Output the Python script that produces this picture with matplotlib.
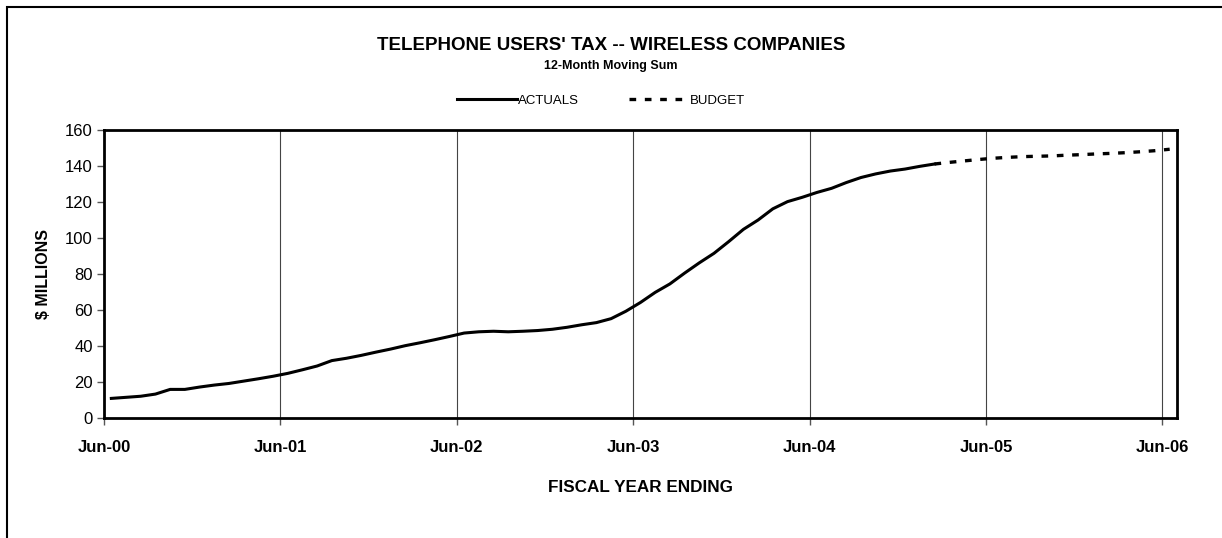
import numpy as np
import matplotlib.pyplot as plt
from matplotlib.patches import Rectangle

plt.rcParams['font.family'] = ['Liberation Sans', 'DejaVu Sans']

# 12-month moving sum, $ millions, month by month from Jun-00
actuals = [10.9, 11.5, 12.1, 13.3, 15.9, 15.9, 17.2, 18.3, 19.2, 20.5,
           21.8, 23.2, 24.8, 26.8, 28.9, 31.9, 33.2, 34.8, 36.6, 38.3,
           40.2, 41.8, 43.5, 45.3, 47.2, 47.9, 48.2, 47.9, 48.2, 48.6,
           49.3, 50.4, 51.8, 53.0, 55.2, 59.3, 64.2, 69.8, 74.5, 80.5,
           86.2, 91.5, 98.0, 104.8, 110.0, 116.2, 120.2, 122.6, 125.3, 127.6,
           130.8, 133.6, 135.6, 137.2, 138.3, 139.8, 141.1]
budget = [141.1, 142.0, 142.8, 143.6, 144.3, 144.8, 145.2, 145.4, 145.6,
          146.0, 146.3, 146.7, 147.0, 147.4, 147.9, 148.5, 149.3]
tick_labels = ["Jun-00", "Jun-01", "Jun-02", "Jun-03", "Jun-04", "Jun-05", "Jun-06"]

x_act = np.arange(len(actuals)) + 0.5
x_bud = np.arange(len(budget)) + len(actuals) - 1 + 0.5

fig = plt.figure(figsize=(12.22, 5.38), dpi=100)
ax = fig.add_axes([0.0851, 0.2230, 0.8781, 0.5354])

ax.plot(x_act, actuals, color='black', lw=2.2, label='ACTUALS', solid_joinstyle='round')
ax.plot(x_bud, budget, color='black', lw=2.4, linestyle=(0, (2, 2.6)), label='BUDGET')

ax.set_xlim(0, 73)
ax.set_ylim(0, 160)
ax.set_yticks(range(0, 161, 20))
ax.set_xticks(range(0, 73, 12))
ax.set_xticklabels(tick_labels, fontweight='bold', fontsize=12)
ax.tick_params(axis='y', labelsize=12, length=5, width=1, color='#555555', pad=3)
ax.tick_params(axis='x', length=5, width=1, color='#555555', pad=11)
for x in range(12, 73, 12):
    ax.axvline(x, color='#444444', lw=0.8, zorder=0)
for s in ax.spines.values():
    s.set_linewidth(2)

ax.set_ylabel('$ MILLIONS', fontweight='bold', fontsize=11.5, labelpad=10)
ax.set_xlabel('FISCAL YEAR ENDING', fontweight='bold', fontsize=12.3, labelpad=18)

fig.text(0.5, 1 - 46 / 538, "TELEPHONE USERS' TAX -- WIRELESS COMPANIES",
         ha='center', va='center', fontweight='bold', fontsize=13.5)
fig.text(0.5, 1 - 66 / 538, '12-Month Moving Sum', ha='center', va='center',
         fontweight='bold', fontsize=9)

fig.legend(loc='center', bbox_to_anchor=(0.492, 1 - 101 / 538), ncol=2, frameon=False,
           fontsize=9.5, handlelength=4.5, handletextpad=0.1, columnspacing=3.8)

# outer frame of the chart area
fig.add_artist(Rectangle((7 / 1222, -0.1), 1.2, 1 - 7 / 538 + 0.1,
                         transform=fig.transFigure, fill=False, lw=1.5,
                         edgecolor='black'))

fig.savefig('out.png', dpi=100)
